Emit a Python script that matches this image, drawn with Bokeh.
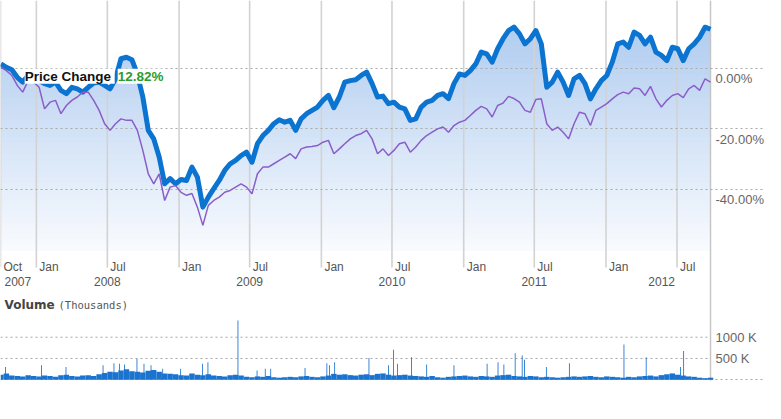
import numpy as np
from datetime import datetime, timedelta
from bokeh.plotting import figure
from bokeh.models import Range1d, Label
from bokeh.core.properties import value
from bokeh.embed import file_html
from bokeh.resources import INLINE

# ---------------- data ----------------
start_date = "2007-10-02"
step_days = 14

stock_pct = [
    1.4, 0.3, -0.5, -3.0, -4.6, -2.4, -1.8, -4.1, -5.1, -5.7,
    -4.6, -7.3, -8.4, -6.3, -6.8, -7.9, -6.3, -4.9, -4.6, -5.7,
    -6.8, -3.5, 3.1, 3.6, 2.8, -2.0, -9.5, -20.5, -23.3, -29.3,
    -38.1, -36.4, -38.1, -36.7, -37.0, -32.6, -35.9, -45.8, -42.5, -39.7,
    -37.0, -33.7, -31.5, -30.4, -28.8, -27.7, -31.0, -24.9, -22.2, -20.5,
    -18.3, -17.0, -17.8, -17.2, -20.5, -16.7, -15.0, -13.9, -12.8, -10.6,
    -9.0, -13.0, -9.5, -4.6, -4.1, -3.8, -2.4, -1.3, -5.1, -9.5,
    -9.2, -11.7, -11.2, -12.8, -13.4, -17.2, -16.7, -12.8, -11.2, -10.6,
    -9.0, -8.4, -10.0, -5.1, -1.9, -2.4, -0.8, 1.4, 5.3, 4.7,
    2.0, 6.4, 9.7, 12.4, 13.5, 11.3, 8.0, 9.7, 12.4, 8.0,
    -6.3, -4.6, -1.3, -4.6, -9.0, -3.5, -2.4, -5.1, -10.1, -6.8,
    -4.1, -2.4, 2.0, 8.0, 8.6, 6.9, 11.9, 10.8, 8.0, 10.2,
    5.3, 4.2, 2.5, 6.9, 6.4, 2.5, 6.4, 8.0, 10.2, 13.5,
    12.82,
]

index_pct = [
    0.3, -0.8, -2.4, -5.7, -7.9, -4.1, -4.6, -6.3, -13.4, -11.2,
    -10.6, -15.0, -12.3, -10.6, -9.5, -7.9, -7.9, -10.6, -13.9, -18.3,
    -20.5, -18.3, -16.7, -17.2, -17.2, -20.5, -27.1, -34.8, -38.1, -34.8,
    -43.6, -39.2, -38.7, -40.9, -41.9, -41.3, -45.8, -51.8, -45.2, -43.6,
    -42.5, -40.9, -40.3, -39.2, -38.1, -39.2, -41.4, -34.8, -32.6, -32.6,
    -31.5, -30.4, -29.3, -28.2, -29.8, -26.6, -26.0, -25.8, -25.5, -24.4,
    -23.8, -28.2, -26.6, -24.9, -23.3, -22.2, -21.6, -20.5, -23.3, -28.2,
    -26.6, -28.8, -27.1, -24.9, -24.4, -27.7, -26.0, -23.8, -22.2, -21.1,
    -20.0, -19.4, -21.1, -18.9, -17.8, -17.2, -15.6, -13.9, -12.6, -13.4,
    -16.1, -12.3, -11.5, -9.3, -10.0, -11.2, -13.9, -14.5, -10.3, -10.1,
    -18.3, -20.5, -19.4, -21.1, -23.3, -18.3, -14.5, -15.0, -18.9, -13.9,
    -12.8, -11.7, -10.1, -8.7, -7.9, -8.4, -6.5, -6.8, -9.0, -6.0,
    -10.1, -12.8, -10.6, -9.0, -8.4, -9.7, -6.8, -5.7, -7.3, -3.5,
    -4.6,
]

volume_k = [
    120, 150, 100, 90, 80, 110, 90, 80, 100, 90,
    70, 110, 120, 90, 80, 100, 110, 90, 130, 160,
    190, 180, 220, 250, 200, 190, 170, 210, 230, 190,
    150, 140, 130, 110, 100, 150, 120, 110, 130, 100,
    90, 80, 110, 120, 100, 70, 60, 80, 70, 90,
    60, 50, 60, 70, 60, 80, 90, 70, 60, 80,
    100, 140, 120, 130, 110, 100, 120, 130, 110, 140,
    150, 120, 100, 110, 120, 100, 90, 80, 70, 90,
    60, 50, 70, 80, 90, 100, 80, 70, 90, 80,
    70, 100, 110, 120, 90, 80, 70, 90, 80, 60,
    70, 60, 50, 60, 70, 80, 70, 80, 90, 70,
    60, 80, 70, 60, 50, 70, 60, 80, 90, 100,
    80, 110, 130, 150, 120, 100, 80, 70, 50, 40, 50,
]

spike_dates = [
    "2007-10-14", "2008-01-14", "2008-03-17", "2008-06-20", "2008-07-18",
    "2008-08-01", "2008-08-14", "2008-09-15", "2008-10-03", "2008-10-21",
    "2008-11-20", "2009-01-05", "2009-03-02", "2009-03-16", "2009-06-01",
    "2009-07-20", "2009-08-10", "2009-08-24", "2009-11-20", "2010-01-15",
    "2010-01-22", "2010-02-04", "2010-05-03", "2010-06-22", "2010-07-05",
    "2010-07-15", "2010-08-20", "2010-09-28", "2010-12-07", "2011-03-02",
    "2011-03-30", "2011-04-14", "2011-05-13", "2011-05-31", "2011-06-06",
    "2011-08-01", "2011-09-29", "2012-02-16", "2012-04-13", "2012-07-10",
    "2012-07-18",
]
spike_k = [
    300, 340, 300, 340, 390,
    375, 360, 495, 375, 340,
    260, 260, 375, 415, 1395,
    220, 260, 260, 280, 390,
    340, 415, 510, 340, 705,
    375, 530, 360, 340, 375,
    415, 360, 625, 570, 470,
    300, 390, 830, 530, 300,
    675,
]

pct_ticks = [0, -20, -40]
pct_labels = ["0.00%", "-20.00%", "-40.00%"]
vol_ticks = [500, 1000]
vol_labels = ["500 K", "1000 K"]

month_ticks = ["2007-10-01", "2008-01-01", "2008-07-01", "2009-01-01", "2009-07-01",
               "2010-01-01", "2010-07-01", "2011-01-01", "2011-07-01", "2012-01-01",
               "2012-07-01"]
month_labels = ["Oct", "Jan", "Jul", "Jan", "Jul", "Jan", "Jul", "Jan", "Jul", "Jan", "Jul"]
year_ticks = ["2007-10-01", "2008-07-01", "2009-07-01", "2010-07-01", "2011-07-01", "2012-07-01"]
year_labels = ["2007", "2008", "2009", "2010", "2011", "2012"]

# ---------------- derived arrays ----------------
day_ms = 86400000
dates = (np.datetime64(start_date) + np.arange(len(stock_pct)) * np.timedelta64(step_days, "D")).astype("datetime64[ms]")
stock = np.array(stock_pct, dtype=float)
index = np.array(index_pct, dtype=float)
mdates = np.array(month_ticks, dtype="datetime64[ms]")
ydates = np.array(year_ticks, dtype="datetime64[ms]")
sdates = np.array(spike_dates, dtype="datetime64[ms]")

# ---------------- figure ----------------
x0 = datetime(2007, 10, 1)
x_range = Range1d(start=x0, end=x0 + timedelta(days=1962))
TOP, BOTTOM = 22.3, -110.5
p = figure(width=765, height=403, x_range=x_range, y_range=Range1d(BOTTOM, TOP),
           x_axis_location=None, y_axis_location=None, toolbar_location=None,
           output_backend="svg", min_border=0)
p.extra_y_ranges = {"vol": Range1d(-556, 8904)}
p.outline_line_color = None
p.grid.visible = False
p.background_fill_color = "white"

FONT = value("Liberation Sans")

# gradient fill under the stock line
fill_bottom = -60.0
n_bands = 44
edges = np.linspace(fill_bottom, TOP, n_bands + 1)
c_top = np.array([168, 199, 238])
c_bot = np.array([249, 251, 254])
for i in range(n_bands):
    lo, hi = edges[i], edges[i + 1]
    frac = ((lo + hi) / 2 - fill_bottom) / (TOP - fill_bottom)
    c = c_bot + (c_top - c_bot) * frac
    col = "#%02x%02x%02x" % tuple(int(round(v)) for v in c)
    p.varea(x=dates, y1=np.minimum(stock, lo - 0.15), y2=np.minimum(stock, hi + 0.15),
            fill_color=col, fill_alpha=1.0)

# vertical gridlines (ticks)
grid_bottom = -65.7
p.segment(x0=mdates, y0=TOP, x1=mdates, y1=grid_bottom, line_color="#d2d2d2", line_width=1.6)
# right edge of plot area
p.segment(x0=[dates[-1]], y0=[TOP], x1=[dates[-1]], y1=[-102.9], line_color="#c4c4c4", line_width=1.4)

# dotted horizontal gridlines
p.hspan(y=pct_ticks, line_color="#a8a8a8", line_dash="2 3", line_width=1)
p.hspan(y=[0], y_range_name="vol", line_color="#a8a8a8", line_dash="2 3", line_width=1)
p.segment(x0=[x0] * len(vol_ticks), y0=vol_ticks, x1=[dates[-1]] * len(vol_ticks), y1=vol_ticks,
          y_range_name="vol", line_color="#a8a8a8", line_dash="2 3", line_width=1)

# series
p.line(dates, stock, line_color="#0b73d0", line_width=5, line_join="round")
p.line(dates, index, line_color="#8a5ec9", line_width=1.5)

# volume
p.vbar(x=dates, top=volume_k, bottom=0, width=step_days * day_ms, y_range_name="vol",
       fill_color="#1a74cf", line_color=None)
p.vbar(x=sdates, top=spike_k, bottom=0, width=2.2 * day_ms, y_range_name="vol",
       fill_color="#1a74cf", line_color=None)

# axis labels
p.text(x=mdates, y=-65.4, text=month_labels, x_offset=3, text_font=FONT,
       text_font_size="12px", text_color="#555555", text_align="left", text_baseline="alphabetic")
p.text(x=ydates[:1], y=-70.2, text=year_labels[:1], x_offset=4, text_font=FONT,
       text_font_size="12px", text_color="#555555", text_align="left", text_baseline="alphabetic")
p.text(x=ydates[1:-1], y=-70.2, text=year_labels[1:-1], text_font=FONT,
       text_font_size="12px", text_color="#555555", text_align="center", text_baseline="alphabetic")
p.text(x=ydates[-1:], y=-70.2, text=year_labels[-1:], x_offset=-2, text_font=FONT,
       text_font_size="12px", text_color="#555555", text_align="right", text_baseline="alphabetic")

p.text(x=[dates[-1]] * len(pct_ticks), y=[t - 3.4 for t in pct_ticks], text=pct_labels, x_offset=5,
       text_font=FONT, text_font_size="13px", text_color="#666666",
       text_align="left", text_baseline="middle")
p.text(x=[dates[-1]] * len(vol_ticks), y=vol_ticks, text=vol_labels, x_offset=5, y_range_name="vol",
       text_font=FONT, text_font_size="13px", text_color="#666666",
       text_align="left", text_baseline="middle")

p.text(x=mdates[:1], y=-77.9, text=["Volume"], x_offset=4, text_font=value("DejaVu Sans"),
       text_font_size="12px", text_font_style="bold", text_color="#444444",
       text_align="left", text_baseline="alphabetic")
p.text(x=mdates[:1], y=-77.9, text=["(Thousands)"], x_offset=58, text_font=value("DejaVu Sans Mono"),
       text_font_size="10.5px", text_color="#555555",
       text_align="left", text_baseline="alphabetic")

# price change annotation
pc_x = datetime(2007, 12, 2)
p.add_layout(Label(x=pc_x, y=-2.7, text="Price Change ", text_font="Liberation Sans",
                   text_font_size="13.5px", text_font_style="bold", text_color="#111111",
                   text_baseline="alphabetic", background_fill_color="white"))
p.add_layout(Label(x=pc_x, y=-2.7, x_offset=93, text="%.2f%%" % stock[-1], text_font="Liberation Sans",
                   text_font_size="13.5px", text_font_style="bold", text_color="#2a9d2a",
                   text_baseline="alphabetic", background_fill_color="white"))

open("out.html", "w").write(file_html(p, INLINE))
